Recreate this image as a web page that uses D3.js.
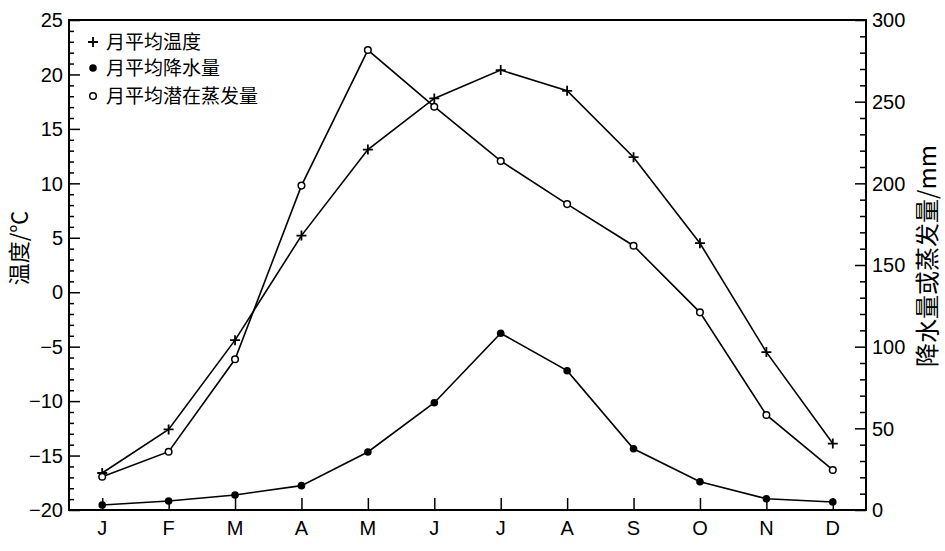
<!DOCTYPE html>
<html><head><meta charset="utf-8">
<script src="https://cdn.jsdelivr.net/npm/d3@7"></script>
<style>body{margin:0;background:#fff}</style>
</head><body>
<svg id="c" width="945" height="551"></svg>
<script>
const months = ["J","F","M","A","M","J","J","A","S","O","N","D"];
const temperature = [-16.6,-12.6,-4.4,5.2,13.1,17.8,20.4,18.5,12.4,4.5,-5.5,-13.9];
const precipitation = [3.1,5.5,9.2,14.9,35.5,65.7,108.2,85.3,37.5,17.3,6.9,4.9];
const evaporation = [20.4,35.7,92.3,198.6,281.6,246.9,213.7,187.3,161.8,121.0,58.2,24.5];
const leftTicks = [-20,-15,-10,-5,0,5,10,15,20,25];
const rightTicks = [0,50,100,150,200,250,300];
const legendLabels = ["月平均温度","月平均降水量","月平均潜在蒸发量"];

const svg = d3.select("#c");
const L=69,R=866,T=20,B=510;
const idx = d3.range(12);
const x = d3.scalePoint().domain(idx).range([L,R]).padding(0.5);
const yL = d3.scaleLinear().domain([-20,25]).range([B,T]);
const yR = d3.scaleLinear().domain([0,300]).range([B,T]);
const numFont = "'Liberation Sans', Arial, sans-serif";
const cjk = "'Noto Sans CJK SC', sans-serif";

// frame
svg.append("rect").attr("x",L).attr("y",T).attr("width",R-L).attr("height",B-T)
  .attr("fill","none").attr("stroke","#000").attr("stroke-width",2);

// left axis: ticks inward
const gl = svg.append("g").attr("transform",`translate(${L},0)`);
gl.call(d3.axisRight(yL).tickValues(d3.range(-20,26,1)).tickSize(5).tickFormat(""));
gl.call(g=>g.select(".domain").remove());
gl.selectAll(".tick line").attr("stroke-width",1.5).attr("x2",d=>d%5===0?11:5);
leftTicks.forEach(v=>{
  svg.append("text").attr("x",L-6).attr("y",yL(v)).attr("dy","0.36em")
    .attr("text-anchor","end").attr("font-family",numFont).attr("font-size",20)
    .text(v<0?"\u2212"+Math.abs(v):v);
});

// right axis
const gr = svg.append("g").attr("transform",`translate(${R},0)`);
gr.call(d3.axisLeft(yR).tickValues(d3.range(0,301,10)).tickSize(6).tickFormat(""));
gr.call(g=>g.select(".domain").remove());
gr.selectAll(".tick line").attr("stroke-width",1.5).attr("x2",d=>d%50===0?-11:-6);
rightTicks.forEach(v=>{
  svg.append("text").attr("x",R+6).attr("y",yR(v)).attr("dy","0.36em")
    .attr("text-anchor","start").attr("font-family",numFont).attr("font-size",20)
    .text(v);
});

// bottom axis
const gb = svg.append("g").attr("transform",`translate(0,${B})`);
gb.call(d3.axisTop(x).tickSize(12).tickFormat(""));
gb.call(g=>g.select(".domain").remove());
gb.selectAll(".tick line").attr("stroke-width",1.5);
idx.forEach(i=>{
  svg.append("text").attr("x",x(i)).attr("y",528).attr("dy","0.36em")
    .attr("text-anchor","middle").attr("font-family",numFont).attr("font-size",20)
    .text(months[i]);
});

// axis titles
svg.append("text").attr("transform",`translate(27,248) rotate(-90)`)
  .attr("text-anchor","middle").attr("font-family",cjk).attr("font-size",22).text("温度/℃");
svg.append("text").attr("transform",`translate(928,256) rotate(-90)`).attr("dy","0.35em")
  .attr("text-anchor","middle").attr("font-family",cjk).attr("font-size",24).text("降水量或蒸发量/mm");

// lines
const lineT = d3.line().x((d,i)=>x(i)).y(d=>yL(d));
const lineR = d3.line().x((d,i)=>x(i)).y(d=>yR(d));
[[temperature,lineT],[precipitation,lineR],[evaporation,lineR]].forEach(([data,ln])=>{
  svg.append("path").datum(data).attr("d",ln).attr("fill","none")
    .attr("stroke","#000").attr("stroke-width",1.6);
});

function plus(g,cx,cy,s){
  g.append("path").attr("d",`M${cx-s},${cy}H${cx+s}M${cx},${cy-s}V${cy+s}`)
    .attr("stroke","#000").attr("stroke-width",1.8).attr("fill","none");
}
const gm = svg.append("g");
temperature.forEach((d,i)=>plus(gm,x(i),yL(d),5));
precipitation.forEach((d,i)=>gm.append("circle").attr("cx",x(i)).attr("cy",yR(d)).attr("r",3.8).attr("fill","#000"));
evaporation.forEach((d,i)=>gm.append("circle").attr("cx",x(i)).attr("cy",yR(d)).attr("r",3.3).attr("fill","#fff").attr("stroke","#000").attr("stroke-width",1.5));

// legend
const ly=[42,68,96], lx=93;
plus(svg,lx,ly[0],5);
svg.append("circle").attr("cx",lx).attr("cy",ly[1]).attr("r",3.8).attr("fill","#000");
svg.append("circle").attr("cx",lx).attr("cy",ly[2]).attr("r",3.3).attr("fill","#fff").attr("stroke","#000").attr("stroke-width",1.5);
legendLabels.forEach((t,i)=>{
  svg.append("text").attr("x",106).attr("y",ly[i]).attr("dy","0.36em")
    .attr("font-family",cjk).attr("font-size",19).text(t);
});
</script>
</body></html>
